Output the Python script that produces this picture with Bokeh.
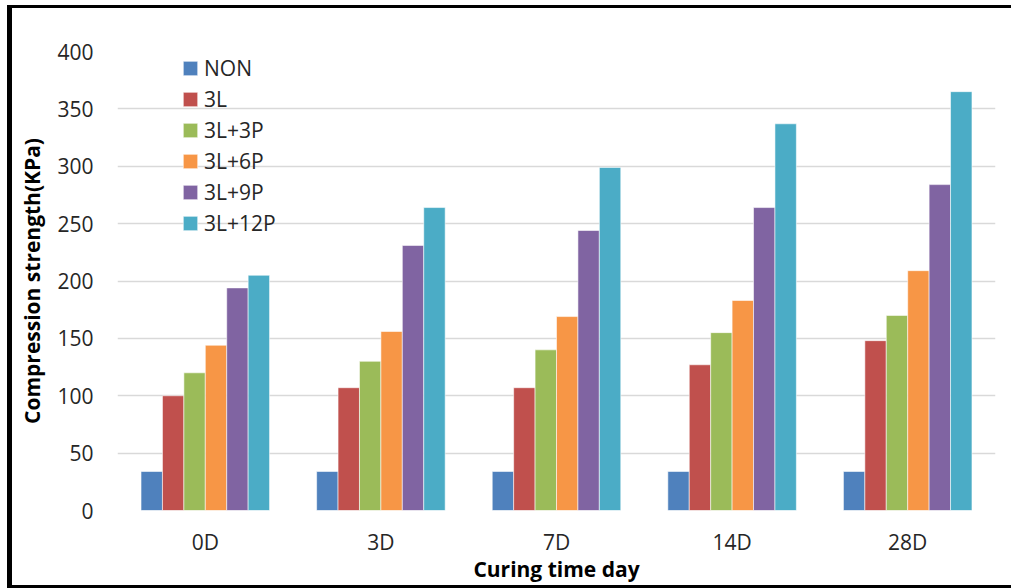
from bokeh.plotting import figure
from bokeh.models import ColumnDataSource, FactorRange, Range1d, FixedTicker, Legend, LegendItem
from bokeh.transform import dodge
from bokeh.embed import file_html
from bokeh.resources import INLINE

categories = ["0D", "3D", "7D", "14D", "28D"]
series_names = ["NON", "3L", "3L+3P", "3L+6P", "3L+9P", "3L+12P"]
NON = [34, 34, 34, 34, 34]
L3 = [100, 107, 107, 127, 148]
L3_P3 = [120, 130, 140, 155, 170]
L3_P6 = [144, 156, 169, 183, 209]
L3_P9 = [194, 231, 244, 264, 284]
L3_P12 = [205, 264, 299, 337, 365]
y_ticks = [0, 50, 100, 150, 200, 250, 300, 350, 400]
colors = ["#4F81BD", "#C0504D", "#9BBB59", "#F79646", "#8064A2", "#4BACC6"]

series_values = [NON, L3, L3_P3, L3_P6, L3_P9, L3_P12]
data = {"cat": categories}
keys = ["s%d" % i for i in range(len(series_names))]
for k, v in zip(keys, series_values):
    data[k] = v
source = ColumnDataSource(data)

FONT = "Open Sans"
FS = "21px"
# outer frame: page margin 7px left / 5px top, black border left/top/bottom
p = figure(frame_width=878, frame_height=459, x_range=FactorRange(*categories), y_range=Range1d(0, 400),
           output_backend="svg", toolbar_location=None,
           min_border_left=105, min_border_right=16, min_border_top=43, min_border_bottom=75,
           styles={"margin-left": "7px", "margin-top": "5px",
                   "border-left": "5px solid black", "border-top": "3px solid black",
                   "border-bottom": "3px solid black", "box-sizing": "content-box"})
p.outline_line_color = None
p.background_fill_color = "white"
p.border_fill_color = "white"

bw = 0.122
items = []
for i, (k, name, c) in enumerate(zip(keys, series_names, colors)):
    r = p.vbar(x=dodge("cat", (i - 2.5) * bw, range=p.x_range), top=k, width=bw, source=source,
               fill_color=c, line_color="white", line_width=0.8, line_alpha=0.7)
    items.append(LegendItem(label=name, renderers=[r]))

legend = Legend(items=items, location=(64, 273), orientation="vertical")
legend.background_fill_alpha = 0
legend.border_line_color = None
legend.padding = 0
legend.margin = 0
legend.spacing = 3
legend.glyph_width = 18
legend.glyph_height = 18
legend.label_standoff = 5
legend.label_text_font = FONT
legend.label_text_font_size = FS
legend.label_text_color = "#262626"
p.add_layout(legend)

p.ygrid.ticker = FixedTicker(ticks=y_ticks)
p.yaxis.ticker = FixedTicker(ticks=y_ticks)
p.ygrid.grid_line_color = "#d9d9d9"
p.ygrid.grid_line_width = 1.7
p.xgrid.grid_line_color = None

for ax in (p.xaxis[0], p.yaxis[0]):
    ax.axis_line_color = None
    ax.major_tick_line_color = None
    ax.minor_tick_line_color = None
    ax.major_tick_in = 0
    ax.major_tick_out = 0
    ax.major_label_text_font = FONT
    ax.major_label_text_font_size = FS
    ax.major_label_text_color = "#262626"
    ax.axis_label_text_font = FONT
    ax.axis_label_text_font_size = FS
    ax.axis_label_text_font_style = "bold"
    ax.axis_label_text_color = "black"

p.xaxis.axis_label = "Curing time day"
p.yaxis.axis_label = "Compression strength(KPa)"
p.xaxis.major_label_standoff = 17
p.xaxis.axis_label_standoff = -4
p.yaxis.major_label_standoff = 24
p.yaxis.axis_label_standoff = 8

open("out.html", "w").write(file_html(p, INLINE))
